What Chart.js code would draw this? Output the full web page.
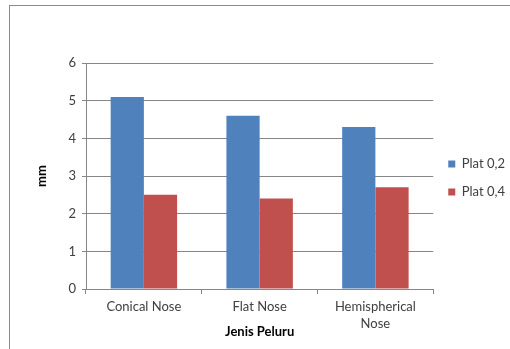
<!DOCTYPE html>
<html>
<head>
<meta charset="utf-8">
<script src="https://cdn.jsdelivr.net/npm/chart.js@4"></script>
<style>
  body { margin: 0; background: #fff; }
  #wrap { position: relative; width: 510px; height: 349px; overflow: hidden; }
  #frame { position: absolute; left: 9px; top: 5px; width: 600px; height: 400px; border: 1px solid #8a8a8a; }
  canvas { position: absolute; left: 0; top: 0; }
</style>
</head>
<body>
<div id="wrap">
  <div id="frame"></div>
  <canvas id="mycanvas" width="510" height="349"></canvas>
</div>
<script>
var categories = ["Conical Nose", "Flat Nose", ["Hemispherical", "Nose"]];
var plat02 = [5.1, 4.6, 4.3];
var plat04 = [2.5, 2.4, 2.7];
var yTicks = [0, 1, 2, 3, 4, 5, 6];

var font = "Lato, 'Open Sans', sans-serif";
Chart.defaults.font.family = font;
Chart.defaults.color = "#404040";

var ctx = document.getElementById("mycanvas");
var chart = new Chart(ctx, {
  type: "bar",
  data: {
    labels: categories,
    datasets: [
      { label: "Plat 0,2", data: plat02, backgroundColor: "#4F81BD" },
      { label: "Plat 0,4", data: plat04, backgroundColor: "#C0504D" }
    ]
  },
  options: {
    responsive: false,
    animation: false,
    categoryPercentage: 0.574,
    barPercentage: 1,
    layout: { padding: { left: 34, top: 7, right: -5, bottom: 0 } },
    plugins: {
      tooltip: { enabled: false },
      // empty title only used as top spacer over the plot, legend keeps full height
      title: { display: true, text: " ", fullSize: false, font: { size: 13 }, padding: { top: 0, bottom: 40.4 } },
      legend: {
        position: "right",
        labels: { boxWidth: 7, boxHeight: 7, padding: 15, font: { size: 13 }, color: "#404040" }
      }
    },
    scales: {
      x: {
        afterFit: function(s) { s.height = 60; },
        grid: { drawOnChartArea: false, color: "#868686", tickLength: 5 },
        border: { color: "#868686" },
        ticks: { font: { size: 13, lineHeight: 1.25 }, color: "#404040", padding: 5 },
        title: { display: true, text: "Jenis Peluru", font: { size: 13, weight: "bold" }, color: "#000", padding: { top: 0, bottom: 9 } }
      },
      y: {
        min: 0, max: 6,
        afterFit: function(s) { s.width = 52; },
        afterBuildTicks: function(s) { s.ticks = yTicks.map(function(v) { return { value: v }; }); },
        grid: { color: "#868686", tickLength: 4 },
        border: { color: "#868686" },
        ticks: { font: { size: 13 }, color: "#404040", padding: 6 },
        title: { display: true, text: "mm", font: { size: 13, weight: "bold" }, color: "#000", padding: 0 }
      }
    }
  }
});
</script>
</body>
</html>
